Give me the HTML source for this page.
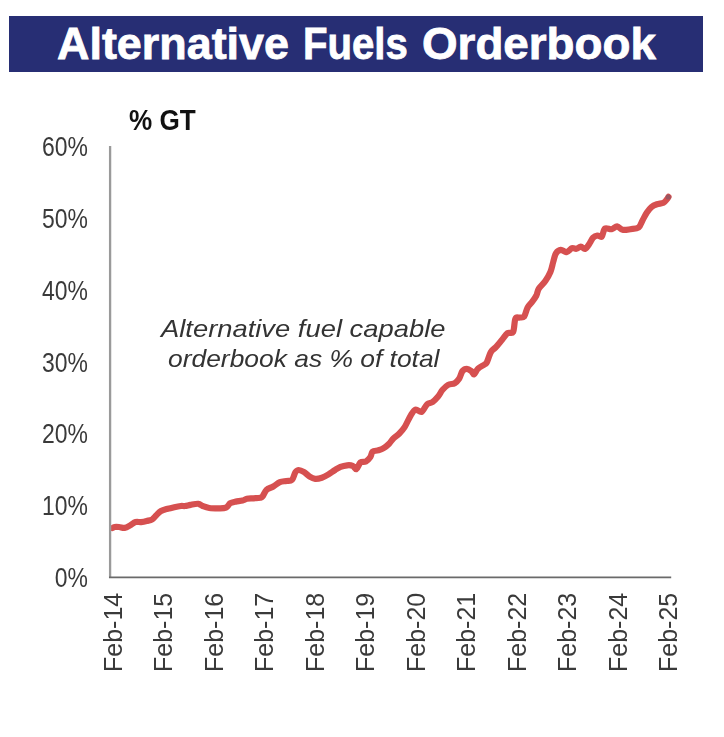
<!DOCTYPE html>
<html><head><meta charset="utf-8">
<style>
html,body{margin:0;padding:0;background:#fff;}
body{width:724px;height:737px;position:relative;overflow:hidden;font-family:"Liberation Sans",sans-serif;}
#wrap{position:absolute;left:0;top:0;width:724px;height:737px;filter:blur(0.4px);}
.a{position:absolute;white-space:nowrap;line-height:1;}
#bar{position:absolute;left:9px;top:16px;width:694px;height:56px;background:#272e74;}
.t{position:absolute;color:#fff;font-weight:bold;font-size:44px;top:22px;transform-origin:0 0;-webkit-text-stroke:0.8px #fff;}
.yl{font-size:27px;color:#3a3a3a;text-align:right;width:100px;transform-origin:100% 0;transform:translateY(-50%) scaleX(0.85);height:27px;}
.yl{transform:scaleX(0.85);margin-top:-13.50px;}
.xl{font-size:25px;color:#3a3a3a;transform-origin:0 0;transform:rotate(-90deg);}
.an{font-size:24px;font-style:italic;color:#333;transform-origin:0 0;}
</style></head><body><div id="wrap">
<div id="bar"></div>
<div class="a t" id="t1" style="left:56.5px;transform:scaleX(1.02)">Alternative</div>
<div class="a t" id="t2" style="left:303.3px;transform:scaleX(0.912)">Fuels</div>
<div class="a t" id="t3" style="left:421.8px;transform:scaleX(1.04)">Orderbook</div>
<div class="a" id="gt" style="left:128.5px;top:106px;font-size:29px;font-weight:bold;color:#111;transform-origin:0 0;transform:scaleX(0.9)">% GT</div>
<div class="a yl" style="left:-12.5px;top:147.50px;">60%</div>
<div class="a yl" style="left:-12.5px;top:219.37px;">50%</div>
<div class="a yl" style="left:-12.5px;top:291.24px;">40%</div>
<div class="a yl" style="left:-12.5px;top:363.11px;">30%</div>
<div class="a yl" style="left:-12.5px;top:434.98px;">20%</div>
<div class="a yl" style="left:-12.5px;top:506.85px;">10%</div>
<div class="a yl" style="left:-12.5px;top:578.72px;">0%</div>
<svg width="724" height="737" style="position:absolute;left:0;top:0">
<path fill="none" stroke="#d65050" stroke-width="6.2" stroke-linejoin="round" stroke-linecap="round" d="M112.5,528.0 C112.8,527.8 113.5,527.2 114.6,527.0 C115.7,526.8 117.3,526.9 119.0,527.0 C120.7,527.1 122.8,528.2 124.6,527.9 C126.4,527.6 128.3,526.4 130.1,525.4 C131.9,524.4 133.8,522.6 135.6,522.1 C137.4,521.6 139.2,522.3 141.1,522.1 C142.9,521.9 144.8,521.5 146.7,521.0 C148.5,520.5 150.5,520.3 152.2,519.3 C153.8,518.3 155.1,516.3 156.6,514.9 C158.1,513.5 159.2,512.0 161.0,511.0 C162.8,510.0 165.5,509.4 167.7,508.8 C169.9,508.2 172.1,507.7 174.3,507.2 C176.5,506.7 179.1,506.2 180.9,506.0 C182.7,505.8 183.4,506.2 185.0,506.0 C186.6,505.8 188.3,505.3 190.5,504.9 C192.7,504.5 196.3,503.6 198.3,503.8 C200.3,504.0 200.9,505.3 202.7,506.0 C204.5,506.7 206.7,507.6 209.3,508.0 C211.9,508.4 215.3,508.4 218.1,508.4 C220.9,508.3 223.9,508.6 225.9,507.7 C227.9,506.8 228.7,504.2 230.3,503.2 C232.0,502.2 233.8,502.1 235.8,501.6 C237.8,501.2 240.7,501.0 242.5,500.5 C244.3,500.0 245.1,499.2 246.9,498.8 C248.7,498.4 251.3,498.5 253.5,498.3 C255.7,498.1 258.6,498.0 260.1,497.7 C261.6,497.4 261.4,497.8 262.5,496.5 C263.6,495.2 264.8,491.5 266.6,489.8 C268.4,488.1 271.1,487.8 273.3,486.5 C275.5,485.2 277.7,483.0 279.9,482.1 C282.1,481.2 284.5,481.4 286.5,481.0 C288.5,480.6 290.5,481.4 292.0,479.9 C293.5,478.4 294.3,473.8 295.4,472.2 C296.5,470.6 297.2,470.0 298.7,470.0 C300.2,470.0 302.4,471.1 304.2,472.2 C306.0,473.3 307.9,475.5 309.7,476.6 C311.5,477.7 313.2,478.6 315.2,478.8 C317.2,479.0 319.7,478.4 321.9,477.7 C324.1,477.0 326.3,475.7 328.5,474.4 C330.7,473.1 333.1,471.2 335.1,470.0 C337.1,468.8 338.5,467.7 340.5,466.9 C342.5,466.1 345.2,465.5 347.2,465.3 C349.2,465.1 351.1,465.2 352.7,465.8 C354.2,466.4 355.2,469.7 356.5,469.1 C357.8,468.6 358.8,463.8 360.4,462.5 C362.0,461.2 364.2,462.3 365.9,461.4 C367.6,460.5 369.3,458.6 370.4,457.0 C371.5,455.4 371.3,452.6 372.6,451.5 C373.9,450.4 376.3,451.0 378.1,450.4 C379.9,449.8 381.8,449.2 383.6,448.1 C385.4,447.0 387.4,445.4 389.1,443.7 C390.8,442.0 391.9,439.8 393.6,438.2 C395.3,436.6 397.3,435.6 399.1,433.8 C400.9,432.0 402.7,430.2 404.6,427.2 C406.5,424.2 408.7,418.7 410.5,415.8 C412.3,412.9 413.6,410.4 415.5,409.7 C417.4,409.0 419.7,412.8 421.6,411.9 C423.5,411.0 425.3,405.8 427.1,404.2 C428.9,402.6 430.8,403.3 432.6,402.0 C434.4,400.7 436.4,398.5 438.1,396.5 C439.8,394.5 440.9,391.7 442.6,389.8 C444.3,387.9 446.1,386.0 448.1,384.9 C450.1,383.8 452.9,384.2 454.7,383.2 C456.5,382.2 457.8,380.8 459.1,378.8 C460.4,376.8 461.2,372.7 462.5,371.0 C463.8,369.3 465.4,368.8 466.9,368.8 C468.4,368.8 470.1,370.1 471.3,371.0 C472.5,371.9 473.0,374.8 474.1,374.4 C475.2,374.0 476.1,370.5 477.9,368.8 C479.6,367.1 483.2,365.4 484.6,364.4 C486.1,363.4 485.5,365.0 486.6,362.9 C487.7,360.8 489.5,354.5 491.0,351.9 C492.5,349.3 493.6,349.5 495.5,347.5 C497.4,345.5 500.1,342.1 502.1,339.7 C504.1,337.3 505.8,334.4 507.6,333.1 C509.4,331.8 511.8,334.4 513.1,332.0 C514.4,329.6 514.3,321.1 515.4,318.7 C516.5,316.3 518.3,318.0 519.8,317.6 C521.3,317.2 522.9,318.1 524.2,316.5 C525.5,314.9 526.2,310.1 527.5,307.7 C528.8,305.3 530.4,304.2 531.9,302.2 C533.4,300.2 535.2,297.8 536.4,295.5 C537.5,293.2 537.3,291.1 538.8,288.6 C540.3,286.2 543.6,283.6 545.5,280.8 C547.4,278.0 549.1,275.1 550.4,272.0 C551.7,268.9 552.3,265.1 553.2,262.0 C554.1,258.9 554.7,255.2 556.0,253.2 C557.3,251.2 559.1,250.1 560.9,249.9 C562.6,249.7 564.6,252.4 566.5,252.1 C568.4,251.8 570.4,248.8 572.0,248.2 C573.6,247.6 574.9,249.1 576.4,248.8 C577.9,248.5 579.3,246.6 580.8,246.6 C582.3,246.6 583.7,249.4 585.2,248.8 C586.7,248.2 588.4,245.2 589.7,243.3 C591.0,241.5 591.7,239.0 593.0,237.7 C594.3,236.4 595.9,235.7 597.4,235.5 C598.9,235.3 600.5,237.8 601.8,236.6 C603.0,235.4 603.3,229.8 604.9,228.6 C606.5,227.4 609.6,229.6 611.6,229.2 C613.6,228.8 615.3,226.3 617.1,226.4 C618.9,226.5 620.4,229.3 622.6,229.8 C624.8,230.3 627.7,229.6 630.4,229.2 C633.1,228.8 636.6,229.0 638.6,227.5 C640.6,226.0 641.1,222.9 642.5,220.4 C643.9,217.9 645.4,214.8 646.9,212.6 C648.4,210.4 649.7,208.5 651.4,207.1 C653.1,205.7 654.9,205.0 656.9,204.3 C658.9,203.6 661.9,203.5 663.5,202.7 C665.1,201.9 666.0,200.4 666.8,199.4 C667.6,198.4 668.2,197.3 668.5,196.9"/>
<circle cx="668.2" cy="197.0" r="2.6" fill="#9c5660"/>
<path d="M110.1,146 L110.1,578" fill="none" stroke="#9a9a9a" stroke-width="2.3"/>
<path d="M109,577.4 L671.2,577.4" fill="none" stroke="#6a6a6a" stroke-width="1.6"/>
</svg>
<div class="a an" id="an1" style="left:161px;top:317.48px;transform:scaleX(1.14)">Alternative fuel capable</div>
<div class="a an" id="an2" style="left:167.5px;top:347.28px;transform:scaleX(1.1)">orderbook as % of total</div>
<div class="a xl" style="left:100.50px;top:672.3px;">Feb-14</div>
<div class="a xl" style="left:151.01px;top:672.3px;">Feb-15</div>
<div class="a xl" style="left:201.52px;top:672.3px;">Feb-16</div>
<div class="a xl" style="left:252.03px;top:672.3px;">Feb-17</div>
<div class="a xl" style="left:302.54px;top:672.3px;">Feb-18</div>
<div class="a xl" style="left:353.05px;top:672.3px;">Feb-19</div>
<div class="a xl" style="left:403.56px;top:672.3px;">Feb-20</div>
<div class="a xl" style="left:454.07px;top:672.3px;">Feb-21</div>
<div class="a xl" style="left:504.58px;top:672.3px;">Feb-22</div>
<div class="a xl" style="left:555.09px;top:672.3px;">Feb-23</div>
<div class="a xl" style="left:605.60px;top:672.3px;">Feb-24</div>
<div class="a xl" style="left:656.11px;top:672.3px;">Feb-25</div>
</div></body></html>
